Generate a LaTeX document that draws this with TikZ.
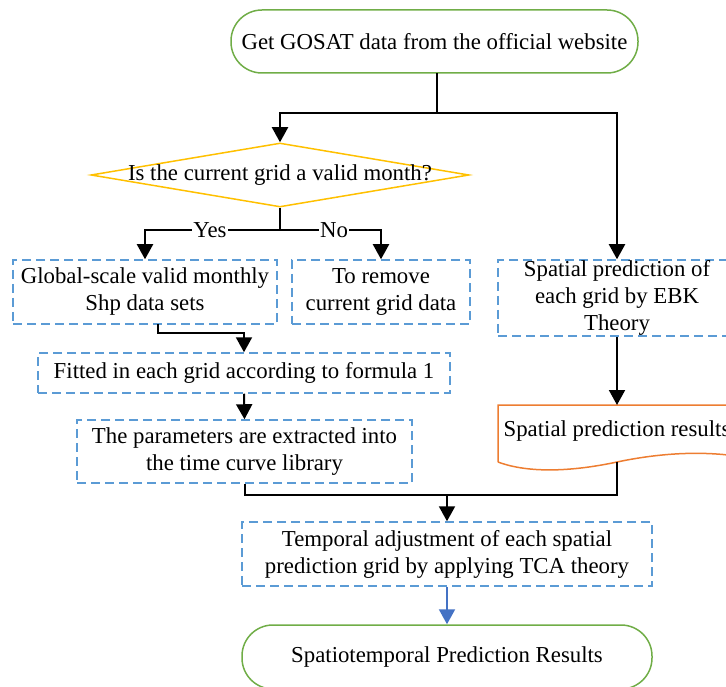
\documentclass[tikz,border=0pt]{standalone}
\usepackage{fontspec}
\setmainfont{Liberation Serif}
\usetikzlibrary{arrows.meta,shapes.geometric}
\definecolor{tgreen}{HTML}{70AD47}
\definecolor{tyellow}{HTML}{FFC000}
\definecolor{tblue}{HTML}{5B9BD5}
\definecolor{torange}{HTML}{ED7D31}
\definecolor{tarrow}{HTML}{4472C4}
\begin{document}
\begin{tikzpicture}[x=1pt,y=-1pt,
  every node/.style={font=\fontsize{22.8}{27}\selectfont, align=center, inner sep=0pt},
  term/.style={draw=tgreen, line width=1.5pt, rounded corners=31pt, minimum height=63pt},
  dbox/.style={draw=tblue, line width=1.5pt, dash pattern=on 9pt off 5pt},
  dia/.style={draw=tyellow, line width=1.5pt, diamond, minimum width=378pt, minimum height=64pt, inner sep=0pt},
  conn/.style={line width=2pt, black},
  arr/.style={conn, -{Triangle[width=16pt,length=15pt]}},
  lbl/.style={fill=white, inner xsep=1pt}
]
\useasboundingbox (0,0) rectangle (726,687);
\clip (0,0) rectangle (726,687);

% nodes
\node[term, minimum width=407pt] (top) at (434.5,41.5) {Get GOSAT data from the official website};
\node[dia] (d) at (280,175) {};
\node (dtext) at (d.center) {Is the current grid a valid month?};
\node[dbox, minimum width=264pt, minimum height=64pt] (glob) at (145,292) {Global-scale valid monthly\\Shp data sets};
\node[dbox, minimum width=178pt, minimum height=64pt] (rem) at (381,292) {To remove\\current grid data};
\node[dbox, minimum width=238pt, minimum height=76pt] (ebk) at (617,298) {Spatial prediction of\\each grid by EBK\\Theory};
\node[dbox, minimum width=412pt, minimum height=40pt] (fit) at (244,373) {Fitted in each grid according to formula 1};
\node[dbox, minimum width=335pt, minimum height=63pt] (par) at (244.5,451.5) {The parameters are extracted into\\the time curve library};
\node[dbox, minimum width=410pt, minimum height=64pt] (tca) at (447,554) {Temporal adjustment of each spatial\\prediction grid by applying TCA theory};
\node[term, minimum width=410pt, minimum height=64pt] (bot) at (447,657) {Spatiotemporal Prediction Results};

% document shape
\draw[torange, line width=1.5pt] (498,462) -- (498,405) -- (736,405) -- (736,456)
  .. controls (700,451) and (660,453) .. (617,462)
  .. controls (575,471) and (530,474) .. (498,462);
\coordinate (rest) at (617,405);
\coordinate (resb) at (617,462);
\node (res) at (617,431) {Spatial prediction results};

% connectors
\coordinate (j1) at (437,113);
\draw[conn] (437,73) -- (j1);
\draw[arr] (j1) -| (d.north);
\draw[arr] (j1) -| (ebk.north);
\coordinate (j2) at (280,230);
\draw[conn] (d.south) -- (j2);
\draw[arr] (j2) -| (glob.north);
\draw[arr] (j2) -| (rem.north);
\node[lbl] (yes) at (210,230) {Yes};
\node[lbl] (no) at (334,230) {No};
\draw[arr] (158,324) -- (158,333) -| (fit.north);
\draw[arr] (fit.south) -- (par.north);
\draw[arr] (ebk.south) -- (rest);
\coordinate (j3) at (447,495);
\draw[conn] (par.south) |- (j3) -| (resb);
\draw[arr] (j3) -- (tca.north);
\draw[arr, draw=tarrow, fill=tarrow] (tca.south) -- (bot.north);
\end{tikzpicture}
\end{document}
